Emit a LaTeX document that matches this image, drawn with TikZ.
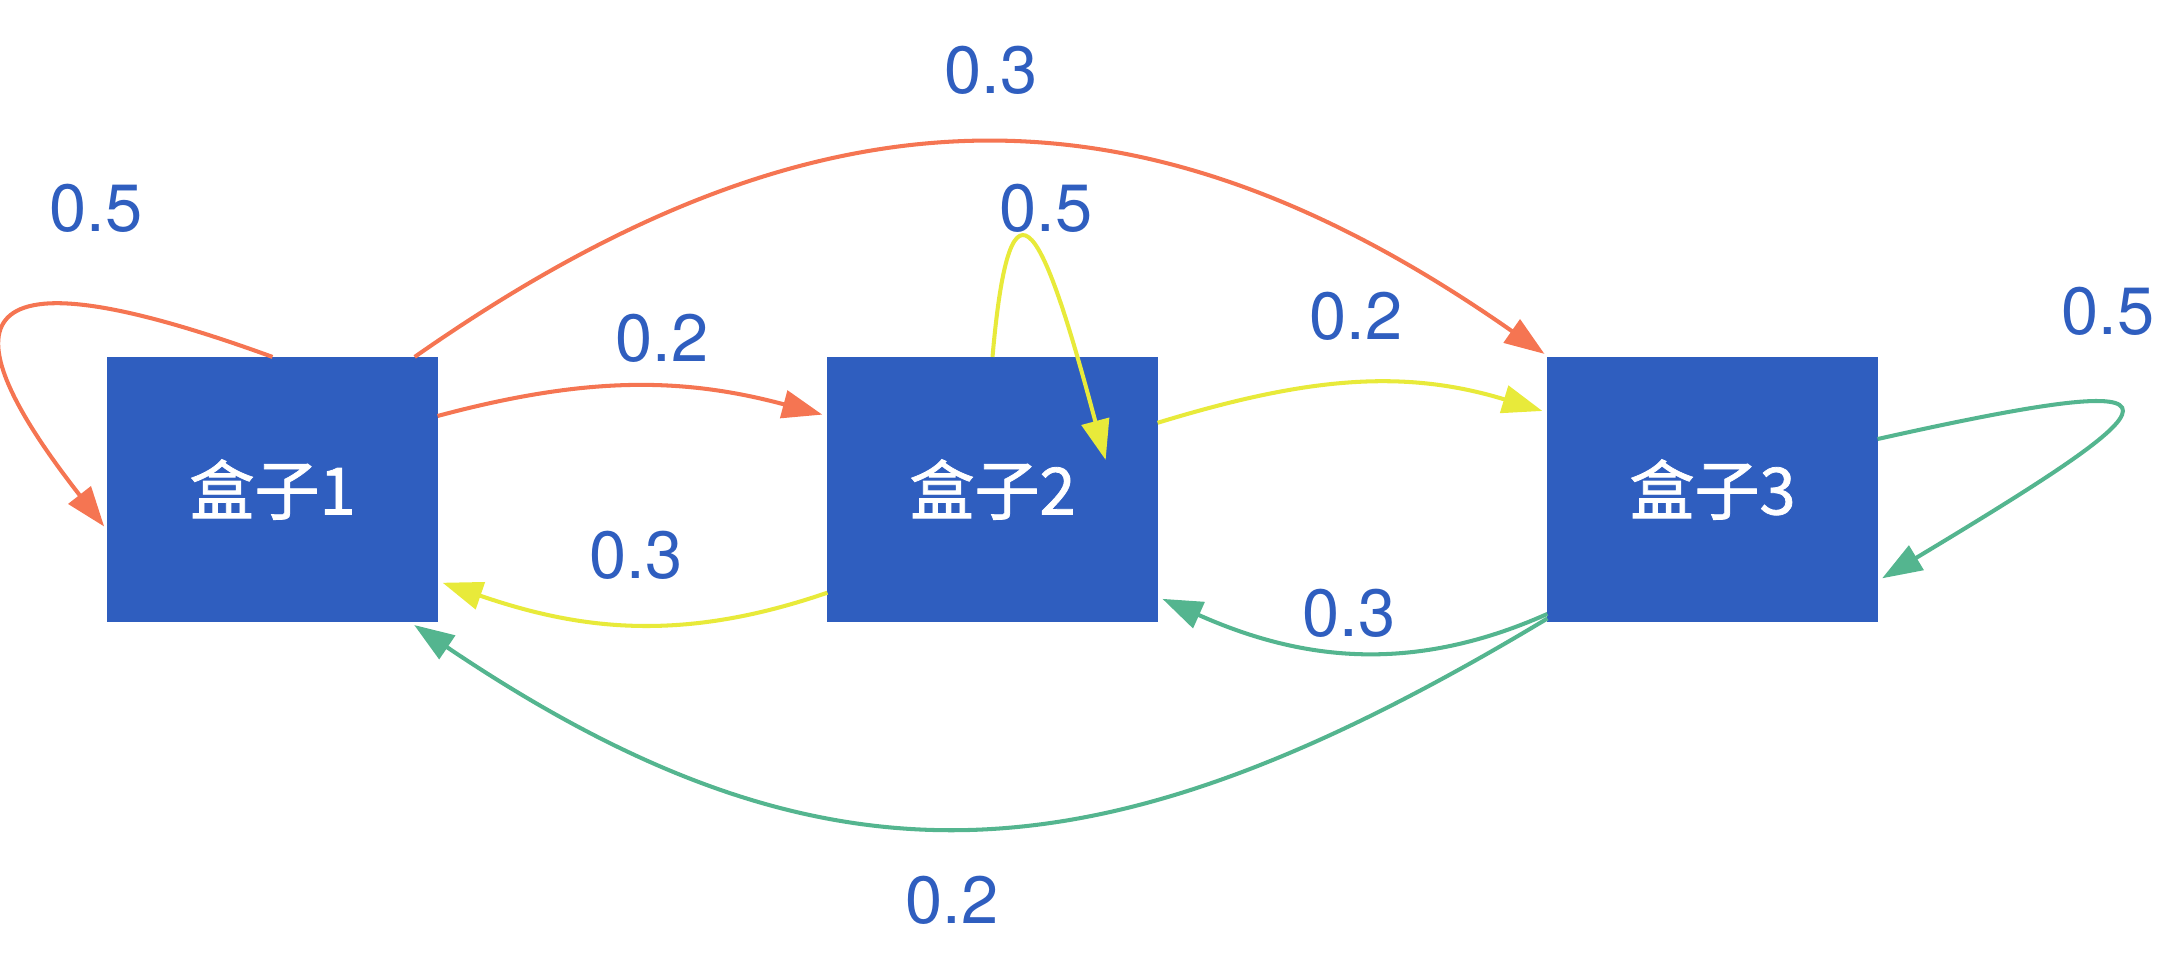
\documentclass[tikz,border=0pt]{standalone}
\usepackage{fontspec}
\setmainfont{TeX Gyre Heros}
\newfontfamily\cjk{Noto Sans CJK SC}[FakeBold=1.2]
\usetikzlibrary{arrows.meta,calc}
\definecolor{boxblue}{RGB}{47,94,191}
\definecolor{linkorange}{RGB}{245,117,82}
\definecolor{linkyellow}{RGB}{232,234,58}
\definecolor{linkgreen}{RGB}{84,181,143}
\tikzset{
	box/.style={rectangle, fill=boxblue, minimum width=3.3cm, minimum height=2.65cm, inner sep=0pt, outer sep=0pt, text=white, font=\cjk\fontsize{18.5}{20}\selectfont},
	prob/.style={inner sep=0pt, text=boxblue, font=\fontsize{19}{20}\selectfont},
	link/.style={line width=1.15pt, -{Triangle[length=0.4cm, width=0.28cm]}, shorten >=1.5pt},
}

\begin{document}
\begin{tikzpicture}[x=0.01cm, y=0.01cm]
		%%%%% START %%%%%
		\useasboundingbox (0, 0) rectangle (2179, 966);
		
		\node[box] (b1) at (272.5, 476.5) {盒子1};
		\node[box] (b2) at (992.5, 476.5) {盒子2};
		\node[box] (b3) at (1712.5, 476.5) {盒子3};
		\coordinate (t22) at ($(b2.center)+(114.5, 24.5)$);
		
		% from box 1
		\draw[link, color=linkorange] (b1.north) .. controls +(160:330) and +(128:270) .. (b1.194);
		\draw[link, color=linkorange] (b1.24) to[out=15, in=165] (b2.156);
		\draw[link, color=linkorange] (b1.43) to[out=35, in=145, looseness=1.12] (b3.141);
		
		% from box 2
		\draw[link, color=linkyellow] (b2.north) .. controls +(85:210) and +(105:240) .. (t22);
		\draw[link, color=linkyellow] (b2.22) to[out=17, in=163] (b3.155);
		\draw[link, color=linkyellow] (b2.212) to[out=199, in=341] (b1.331);
		
		% from box 3
		\draw[link, color=linkgreen] (b3.17) .. controls +(12.6:350) and +(31:350) .. (b3.-29);
		\draw[link, color=linkgreen] (b3.217) to[out=204, in=336] (b2.327);
		\draw[link, color=linkgreen] (b3.218) to[out=211, in=326, looseness=1.15] (b1.316);
		
		% probabilities
		\node[prob] (p11) at (96, 758) {0.5};
		\node[prob] (p12) at (662, 628) {0.2};
		\node[prob] (p13) at (991, 896) {0.3};
		\node[prob] (p22) at (1046, 758) {0.5};
		\node[prob] (p23) at (1356, 650) {0.2};
		\node[prob] (p21) at (636, 411) {0.3};
		\node[prob] (p33) at (2108, 655) {0.5};
		\node[prob] (p32) at (1349, 353) {0.3};
		\node[prob] (p31) at (952, 66) {0.2};
		
		%%%%% END %%%%%
\end{tikzpicture}
\end{document}
